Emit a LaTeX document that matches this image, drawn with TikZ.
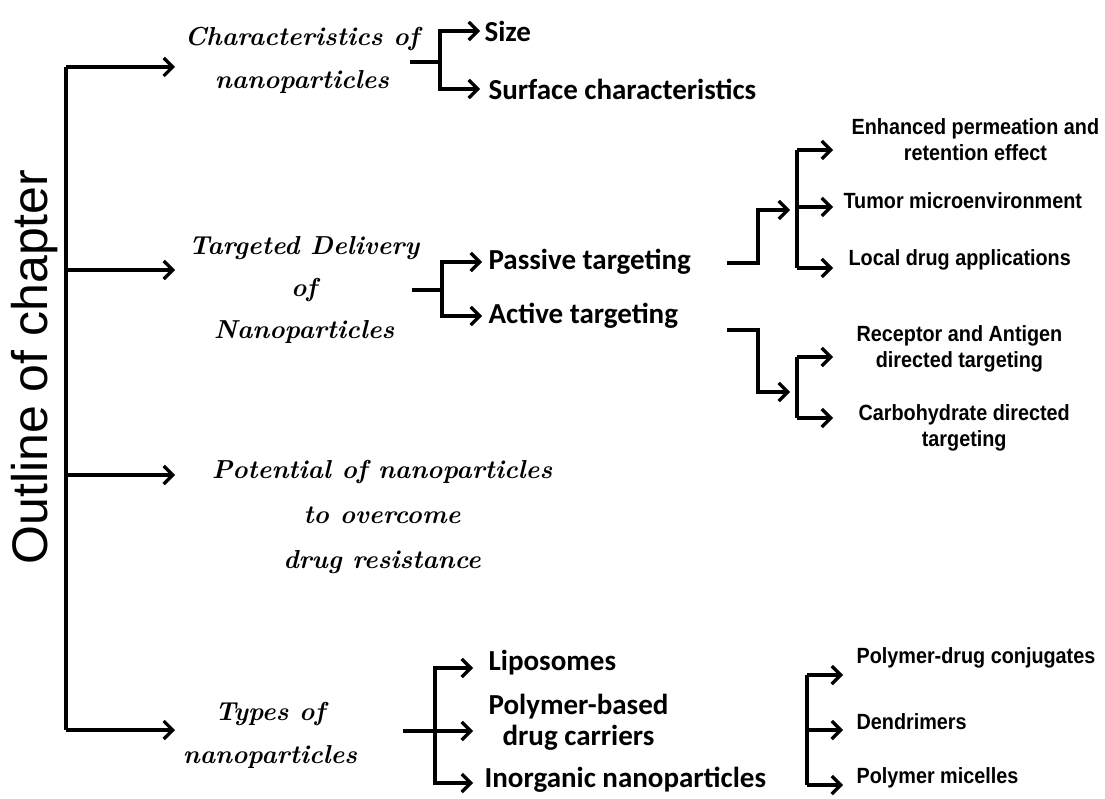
\documentclass[tikz,border=0pt]{standalone}
\usepackage{fontspec}
\usetikzlibrary{calc}
\usetikzlibrary{arrows.meta}
\usetikzlibrary{positioning}
\newfontfamily\outlinefont{Liberation Sans}
\newfontfamily\subfont{Carlito}
\newfontfamily\leaffont[FakeStretch=0.9]{Liberation Sans}
\tikzset{
  topic/.style={font=\fontsize{26}{43}\selectfont\bfseries\itshape,align=center,inner sep=0pt},
  sub/.style={font=\fontsize{29}{31}\selectfont\subfont\bfseries,align=center,inner sep=0pt},
  leaf/.style={font=\fontsize{22}{26}\selectfont\leaffont\bfseries,align=center,inner sep=0pt},
  arr/.style={-{Straight Barb[length=9pt,width=18pt]}},
}

\begin{document}
\begin{tikzpicture}[x=1pt,y=-1pt,line width=3.2pt]
\useasboundingbox (0,0) rectangle (1105,799);
\node[rotate=90,font=\fontsize{50}{50}\selectfont\outlinefont] (outline) at (35,367) {Outline of chapter};
% main spine
\coordinate (m1) at (66,67);
\coordinate (m2) at (66,270);
\coordinate (m3) at (66,475);
\coordinate (m4) at (66,730);
\coordinate (mtip) at (175,0);
\draw (m1) -- (m4);
\foreach \i in {1,...,4} \draw[arr] (m\i) -- (m\i -| mtip);
\node[topic] (chr) at (302,60) {Characteristics of\\nanoparticles};
\node[topic,font=\fontsize{26}{42}\selectfont\bfseries\itshape] (tgt) at (304,290) {Targeted Delivery\\of\\Nanoparticles};
\node[topic,font=\fontsize{26}{45}\selectfont\bfseries\itshape] (pot) at (382,517) {Potential of nanoparticles\\to overcome\\drug resistance};
\node[topic] (typ) at (270,735) {Types of\\nanoparticles};
% characteristics
\coordinate (c0) at (410,62);
\coordinate (c1) at (440,62);
\coordinate (size-in) at (480,31);
\coordinate (surf-in) at (480,89);
\node[sub,right=3pt of size-in] (size) {Size};
\node[sub,right=7pt of surf-in] (surf) {Surface characteristics};
\draw (c0) -- (c1);
\draw[arr] (c1) |- (size-in);
\draw[arr] (c1) |- (surf-in);
% targeted delivery
\coordinate (t0) at (412,290);
\coordinate (t1) at (442,290);
\coordinate (pas-in) at (482,262);
\coordinate (act-in) at (482,316);
\node[sub,right=5pt of pas-in] (pas) {Passive targeting};
\node[sub,right=5pt of act-in] (act) {Active targeting};
\draw (t0) -- (t1);
\draw[arr] (t1) |- (pas-in);
\draw[arr] (t1) |- (act-in);
% passive
\coordinate (p0) at (727,263);
\coordinate (p1) at (758,263);
\coordinate (pq) at (790,210);
\coordinate (ps) at (797,210);
\coordinate (enh-in) at (833,150);
\coordinate (tum-in) at (833,207);
\coordinate (loc-in) at (833,268);
\draw[arr] (p0) -- (p1) |- (pq);
\draw (ps |- enh-in) -- (ps |- loc-in);
\foreach \n in {enh,tum,loc} \draw[arr] (ps |- \n-in) -- (\n-in);
\node[leaf,right=17pt of enh-in,yshift=10pt] (enh) {Enhanced permeation and\\retention effect};
\node[leaf,right=9pt of tum-in,yshift=6pt] (tum) {Tumor microenvironment};
\node[leaf,right=14pt of loc-in,yshift=8pt] (loc) {Local drug applications};
% active
\coordinate (a0) at (727,330);
\coordinate (a1) at (758,330);
\coordinate (aq) at (790,392);
\coordinate (as) at (797,392);
\coordinate (rec-in) at (833,357);
\coordinate (carb-in) at (833,418);
\draw[arr] (a0) -- (a1) |- (aq);
\draw (as |- rec-in) -- (as |- carb-in);
\foreach \n in {rec,carb} \draw[arr] (as |- \n-in) -- (\n-in);
\node[leaf,right=22pt of rec-in,yshift=8pt] (rec) {Receptor and Antigen\\directed targeting};
\node[leaf,right=24pt of carb-in,yshift=-10pt] (carb) {Carbohydrate directed\\targeting};
% types
\coordinate (y0) at (403,731);
\coordinate (y1) at (435,731);
\coordinate (lip-in) at (473,668);
\coordinate (poly-in) at (473,731);
\coordinate (inorg-in) at (473,783);
\node[sub,right=14pt of lip-in,yshift=5pt] (lip) {Liposomes};
\node[sub,right=14pt of poly-in,yshift=9pt] (poly) {Polymer-based\\drug carriers};
\node[sub,right=10pt of inorg-in,yshift=3pt] (inorg) {Inorganic nanoparticles};
\draw[arr] (y0) -- (poly-in);
\draw[arr] (y1) |- (lip-in);
\draw[arr] (y1) |- (inorg-in);
\coordinate (bs) at (807,0);
\coordinate (pdc-in) at (843,675);
\coordinate (den-in) at (843,730);
\coordinate (mic-in) at (843,785);
\draw (bs |- pdc-in) -- (bs |- mic-in);
\foreach \n in {pdc,den,mic} \draw[arr] (bs |- \n-in) -- (\n-in);
\node[leaf,right=12pt of pdc-in,yshift=17pt] (pdc) {Polymer-drug conjugates};
\node[leaf,right=12pt of den-in,yshift=8pt] (den) {Dendrimers};
\node[leaf,right=12pt of mic-in,yshift=7pt] (mic) {Polymer micelles};
\end{tikzpicture}
\end{document}
